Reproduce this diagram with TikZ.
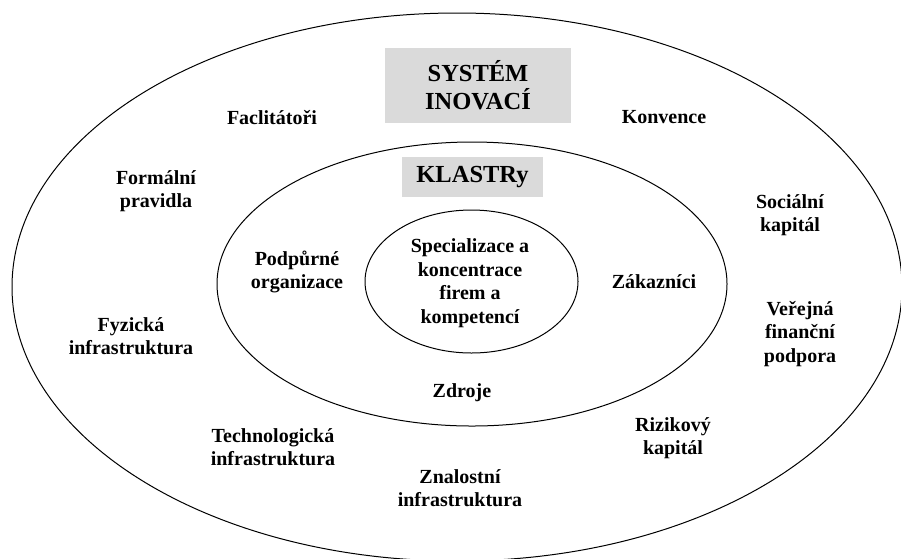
\documentclass[tikz,border=0pt]{standalone}
\usepackage{fontspec}
\setmainfont{LiberationSerif}[Extension=.ttf,UprightFont=*-Regular,BoldFont=*-Bold,ItalicFont=*-Italic,BoldItalicFont=*-BoldItalic]
\usetikzlibrary{shapes.geometric}
\definecolor{boxgray}{RGB}{218,218,218}
\begin{document}
\begin{tikzpicture}[x=1pt,y=-1pt,
  ring/.style={draw,ellipse,line width=1pt,inner sep=0pt},
  lbl/.style={inner sep=1pt,align=center,font=\bfseries\fontsize{20}{23.5}\selectfont},
  title/.style={fill=boxgray,inner sep=0pt,align=center,font=\bfseries\fontsize{24.5}{28}\selectfont}]
\useasboundingbox[fill=white] (0,0) rectangle (901,558);
% rings
\node[ring,minimum width=890pt,minimum height=548pt] (sys) at (457,287) {};
\node[ring,minimum width=510pt,minimum height=284pt] (klast) at (472,284) {};
\node[ring,minimum width=213pt,minimum height=143pt] (core) at (471.5,281.5) {};
% titles
\node[title,minimum width=186pt,minimum height=75pt] (tsys) at (478,85.5) {SYSTÉM\\INOVACÍ};
\node[title,minimum width=141pt,minimum height=40pt] (tklast) at (472.5,177) {KLASTRy};
% core
\node[lbl] (spec) at (470,283) {Specializace a\\koncentrace\\firem a\\kompetencí};
% cluster ring
\node[lbl] (podp) at (297,272) {Podpůrné\\organizace};
\node[lbl] (zak) at (654,282) {Zákazníci};
\node[lbl] (zdr) at (462,393) {Zdroje};
% system ring
\node[lbl] (fac) at (272,118) {Faclitátoři};
\node[lbl] (konv) at (664,117) {Konvence};
\node[lbl] (form) at (156,191) {Formální\\pravidla};
\node[lbl] (soc) at (790,215) {Sociální\\kapitál};
\node[lbl] (fyz) at (131,336) {Fyzická\\infrastruktura};
\node[lbl] (ver) at (800,334) {Veřejná\\finanční\\podpora};
\node[lbl] (tech) at (273,447) {Technologická\\infrastruktura};
\node[lbl] (riz) at (673,438) {Rizikový\\kapitál};
\node[lbl] (znal) at (460,488) {Znalostní\\infrastruktura};
\end{tikzpicture}
\end{document}
